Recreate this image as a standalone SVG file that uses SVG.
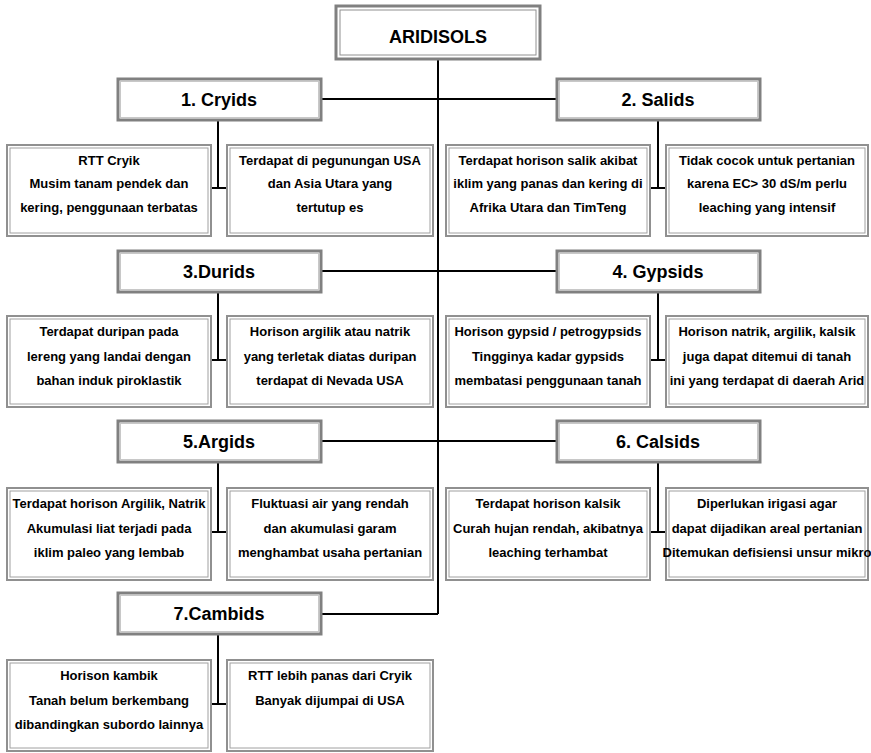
<svg xmlns="http://www.w3.org/2000/svg" width="871" height="753" viewBox="0 0 871 753">
<style>
.pb{fill:#fff;stroke:#808080;stroke-width:3}
.pi{fill:none;stroke:#c8c8c8;stroke-width:1}
.cb{fill:#fff;stroke:#909090;stroke-width:2}
.ci{fill:none;stroke:#a0a0a0;stroke-width:1}
.ln{fill:none;stroke:#000;stroke-width:2}
text{font-family:"Comic Sans MS","Liberation Sans Narrow","Liberation Sans",sans-serif;font-weight:bold;text-anchor:middle;fill:#000}
.pt{font-size:18px}
.ct{font-size:13px}
</style>
<rect width="871" height="753" fill="#fff"/>
<g id="connectors">
<path class="ln" d="M438 60V614M322 99H556M322 271H556M322 441H556M322 614H438"/>
<path class="ln" d="M218 120V188M211 188H227M658 120V188M650 188H666"/>
<path class="ln" d="M218 292V360M211 360H227M658 292V360M650 360H666"/>
<path class="ln" d="M218 462V532M211 532H227M658 462V532M650 532H666"/>
<path class="ln" d="M218 634V704M211 704H227"/>
</g>
<g id="root">
<rect class="pb" x="336" y="6" width="204" height="53"/>
<rect x="340" y="10" width="196" height="45" fill="none" stroke="#909090" stroke-width="1"/>
<text class="pt" x="438" y="43">ARIDISOLS</text>
</g>
<g id="cryids"><rect class="pb" x="118" y="79" width="203" height="41"/><rect class="pi" x="120.5" y="81.5" width="198" height="36"/><text class="pt" x="219" y="106">1. Cryids</text></g>
<g id="salids"><rect class="pb" x="557" y="79" width="203" height="41"/><rect class="pi" x="559.5" y="81.5" width="198" height="36"/><text class="pt" x="658" y="106">2. Salids</text></g>
<g id="durids"><rect class="pb" x="118" y="251" width="203" height="41"/><rect class="pi" x="120.5" y="253.5" width="198" height="36"/><text class="pt" x="219" y="278">3.Durids</text></g>
<g id="gypsids"><rect class="pb" x="557" y="251" width="203" height="41"/><rect class="pi" x="559.5" y="253.5" width="198" height="36"/><text class="pt" x="658" y="278">4. Gypsids</text></g>
<g id="argids"><rect class="pb" x="118" y="421" width="203" height="41"/><rect class="pi" x="120.5" y="423.5" width="198" height="36"/><text class="pt" x="219" y="448">5.Argids</text></g>
<g id="calsids"><rect class="pb" x="557" y="421" width="203" height="41"/><rect class="pi" x="559.5" y="423.5" width="198" height="36"/><text class="pt" x="658" y="448">6. Calsids</text></g>
<g id="cambids"><rect class="pb" x="118" y="593" width="203" height="41"/><rect class="pi" x="120.5" y="595.5" width="198" height="36"/><text class="pt" x="219" y="620">7.Cambids</text></g>

<g id="cryids-a"><rect class="cb" x="7" y="145" width="204" height="91"/><rect class="ci" x="10" y="148" width="198" height="85"/>
<text class="ct" x="109" y="165">RTT Cryik</text><text class="ct" x="109" y="188">Musim tanam pendek dan</text><text class="ct" x="109" y="212">kering, penggunaan terbatas</text></g>
<g id="cryids-b"><rect class="cb" x="227" y="145" width="206" height="91"/><rect class="ci" x="230" y="148" width="200" height="85"/>
<text class="ct" x="330" y="165">Terdapat di pegunungan USA</text><text class="ct" x="330" y="188">dan Asia Utara yang</text><text class="ct" x="330" y="212">tertutup es</text></g>
<g id="salids-a"><rect class="cb" x="446" y="145" width="204" height="91"/><rect class="ci" x="449" y="148" width="198" height="85"/>
<text class="ct" x="548" y="165">Terdapat horison salik akibat</text><text class="ct" x="548" y="188">iklim yang panas dan kering di</text><text class="ct" x="548" y="212">Afrika Utara dan TimTeng</text></g>
<g id="salids-b"><rect class="cb" x="666" y="145" width="202" height="91"/><rect class="ci" x="669" y="148" width="196" height="85"/>
<text class="ct" x="767" y="165">Tidak cocok untuk pertanian</text><text class="ct" x="767" y="188">karena EC&gt; 30 dS/m perlu</text><text class="ct" x="767" y="212">leaching yang intensif</text></g>

<g id="durids-a"><rect class="cb" x="7" y="316" width="204" height="91"/><rect class="ci" x="10" y="319" width="198" height="85"/>
<text class="ct" x="109" y="336">Terdapat duripan pada</text><text class="ct" x="109" y="361">lereng yang landai dengan</text><text class="ct" x="109" y="385">bahan induk piroklastik</text></g>
<g id="durids-b"><rect class="cb" x="227" y="316" width="206" height="91"/><rect class="ci" x="230" y="319" width="200" height="85"/>
<text class="ct" x="330" y="336">Horison argilik atau natrik</text><text class="ct" x="330" y="361">yang terletak diatas duripan</text><text class="ct" x="330" y="385">terdapat di Nevada USA</text></g>
<g id="gypsids-a"><rect class="cb" x="446" y="316" width="204" height="91"/><rect class="ci" x="449" y="319" width="198" height="85"/>
<text class="ct" x="548" y="336">Horison gypsid / petrogypsids</text><text class="ct" x="548" y="361">Tingginya kadar gypsids</text><text class="ct" x="548" y="385">membatasi penggunaan tanah</text></g>
<g id="gypsids-b"><rect class="cb" x="666" y="316" width="202" height="91"/><rect class="ci" x="669" y="319" width="196" height="85"/>
<text class="ct" x="767" y="336">Horison natrik, argilik, kalsik</text><text class="ct" x="767" y="361">juga dapat ditemui di tanah</text><text class="ct" x="767" y="385">ini yang terdapat di daerah Arid</text></g>

<g id="argids-a"><rect class="cb" x="7" y="488" width="204" height="92"/><rect class="ci" x="10" y="491" width="198" height="86"/>
<text class="ct" x="109" y="508">Terdapat horison Argilik, Natrik</text><text class="ct" x="109" y="533">Akumulasi liat terjadi pada</text><text class="ct" x="109" y="557">iklim paleo yang lembab</text></g>
<g id="argids-b"><rect class="cb" x="227" y="488" width="206" height="92"/><rect class="ci" x="230" y="491" width="200" height="86"/>
<text class="ct" x="330" y="508">Fluktuasi air yang rendah</text><text class="ct" x="330" y="533">dan akumulasi garam</text><text class="ct" x="330" y="557">menghambat usaha pertanian</text></g>
<g id="calsids-a"><rect class="cb" x="446" y="488" width="204" height="92"/><rect class="ci" x="449" y="491" width="198" height="86"/>
<text class="ct" x="548" y="508">Terdapat horison kalsik</text><text class="ct" x="548" y="533">Curah hujan rendah, akibatnya</text><text class="ct" x="548" y="557">leaching terhambat</text></g>
<g id="calsids-b"><rect class="cb" x="666" y="488" width="202" height="92"/><rect class="ci" x="669" y="491" width="196" height="86"/>
<text class="ct" x="767" y="508">Diperlukan irigasi agar</text><text class="ct" x="767" y="533">dapat dijadikan areal pertanian</text><text class="ct" x="767" y="557">Ditemukan defisiensi unsur mikro</text></g>

<g id="cambids-a"><rect class="cb" x="7" y="660" width="204" height="91"/><rect class="ci" x="10" y="663" width="198" height="85"/>
<text class="ct" x="109" y="680">Horison kambik</text><text class="ct" x="109" y="705">Tanah belum berkembang</text><text class="ct" x="109" y="729">dibandingkan subordo lainnya</text></g>
<g id="cambids-b"><rect class="cb" x="227" y="660" width="206" height="91"/><rect class="ci" x="230" y="663" width="200" height="85"/>
<text class="ct" x="330" y="680">RTT lebih panas dari Cryik</text><text class="ct" x="330" y="705">Banyak dijumpai di USA</text></g>
</svg>
